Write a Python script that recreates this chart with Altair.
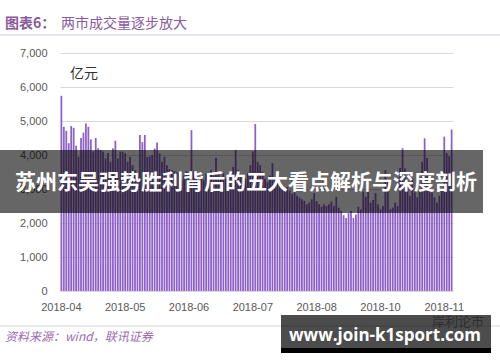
import altair as alt
import pandas as pd

# Daily turnover of the two markets (亿元), Apr 2018 - Nov 2018
VOLUME = [
    5740, 4830, 4710, 4350, 4850, 4800, 4270, 3950, 4500, 4660,
    4930, 4830, 4460, 4100, 4500, 4200, 4150, 4100, 3900, 4060,
    3800, 4200, 4420, 3900, 4100, 4100, 4050, 3800, 3950, 3700,
    3550, 3350, 4590, 4380, 4590, 3940, 3960, 4000, 4190, 4370,
    4050, 3800, 3950, 3700, 3590, 3560, 3530, 3490, 3460, 3260,
    3400, 3520, 3450, 4730, 3520, 3380, 3210, 3380, 3260, 3460,
    3210, 3560, 3400, 3920, 3460, 3300, 3460, 3300, 3260, 3520,
    3650, 4150, 3560, 3400, 3280, 3300, 3460, 3700, 4100, 4910,
    3800, 3700, 3500, 3300, 3200, 3400, 3760, 3300, 3180, 3150,
    3100, 2950, 3050, 2950, 2850, 2900, 2800, 2750, 2700, 2650,
    2550, 2600, 2700, 2880, 2650, 2550, 2480, 2550, 2500, 2550,
    2630, 2500, 2770, 2450, 2350, 2230, 2150, 2290, 2350, 2150,
    2250, 2480, 2400, 2920, 2770, 3070, 2600, 2680, 2880, 2550,
    2400, 2500, 3560, 3260, 2400, 2450, 2600, 2500, 3620, 4200,
    3600, 3200, 2800, 3320, 2900, 2750, 2950, 3800, 4490, 3910,
    3100, 2900, 2750, 2600, 2800, 3020, 4540, 4060, 3960, 4750,
]
TICK_POS = [0, 26, 52, 78, 104, 130, 156]
TICK_LABELS = ["2018-04", "2018-05", "2018-06", "2018-07", "2018-08", "2018-10", "2018-11"]
Y_TICKS = [0, 1000, 2000, 3000, 4000, 5000, 6000, 7000]

TITLE_A = "图表6："
TITLE_B = "两市成交量逐步放大"
UNIT = "亿元"
SOURCE = "资料来源：wind，联讯证券"
HEADLINE = "苏州东吴强势胜利背后的五大看点解析与深度剖析"
WATERMARK = "www.join-k1sport.com"
FAINT_MARK = "岸利论市"

df = pd.DataFrame({"idx": list(range(len(VOLUME))), "value": VOLUME})

label_expr = "{}[indexof({}, datum.value)]".format(
    "[" + ",".join("'%s'" % t for t in TICK_LABELS) + "]",
    "[" + ",".join(str(p) for p in TICK_POS) + "]",
)

W, H = 393, 238
L, T = 60, 53  # plot origin in page pixels

bars = alt.Chart(df).mark_bar(color="#8d5fcb").encode(
    x=alt.X(
        "idx:O",
        scale=alt.Scale(paddingInner=0.28, paddingOuter=0.2),
        axis=alt.Axis(
            values=TICK_POS, labelExpr=label_expr, labelAngle=0, ticks=False,
            domain=False, title=None, labelFontSize=11, labelColor="#595959",
            labelFont="Liberation Sans", labelPadding=10,
        ),
    ),
    y=alt.Y(
        "value:Q",
        scale=alt.Scale(domain=[0, 7000], nice=False),
        axis=alt.Axis(
            values=Y_TICKS, format=",.0f", grid=True, gridColor="#d9d9d9", ticks=False,
            domain=False, title=None, labelFontSize=11, labelColor="#595959",
            labelFont="Liberation Sans", labelPadding=13,
        ),
    ),
)

one = alt.Data(values=[{}])


def text(t, px, py, **kw):
    return alt.Chart(one).mark_text(text=t, **kw).encode(
        x=alt.value(px - L), y=alt.value(py - T)
    )


def rule(x1, x2, py, color):
    return alt.Chart(one).mark_rule(color=color, strokeWidth=1).encode(
        x=alt.value(x1 - L), x2=alt.value(x2 - L), y=alt.value(py - T)
    )


def rect(x1, x2, y1, y2, **kw):
    return alt.Chart(one).mark_rect(**kw).encode(
        x=alt.value(x1 - L), x2=alt.value(x2 - L), y=alt.value(y1 - T), y2=alt.value(y2 - T)
    )


cjk = "Noto Sans CJK SC"
layers = [
    bars,
    text(TITLE_A, 5, 24, font=cjk, fontSize=14, fontWeight="bold", color="#8a5a9e",
         align="left", baseline="middle"),
    text(TITLE_B, 61, 24, font=cjk, fontSize=14, color="#8a5a9e",
         align="left", baseline="middle"),
    rule(0, 500, 35, "#cfc6dc"),
    text(UNIT, 70, 74, font=cjk, fontSize=14, color="#333333", align="left", baseline="middle"),
    rule(0, 500, 326, "#d6d6d6"),
    text(SOURCE, 5, 337, font=cjk, fontSize=12, fontStyle="italic", color="#9a6ab0",
         align="left", baseline="middle"),
    text(FAINT_MARK, 484, 322, font=cjk, fontSize=13, color="#9a9a9a",
         align="right", baseline="middle"),
    rect(0, 483, 150, 213, color="#000000", opacity=0.6),
    text(HEADLINE, 246, 183, font=cjk, fontSize=21, fontWeight="bold", color="#ffffff",
         align="center", baseline="middle"),
    rect(281, 491, 315, 348, color="#000000", opacity=0.7),
    rect(281, 491, 348, 353, color="#000000", opacity=1),
    text(WATERMARK, 385, 336, font="Open Sans", fontSize=17, fontWeight="bold",
         color="#ffffff", align="center", baseline="middle"),
]

chart = alt.layer(*layers).properties(
    width=W, height=H,
    autosize=alt.AutoSizeParams(type="none"),
    padding={"left": L, "top": T, "right": 500 - L - W, "bottom": 362 - T - H},
    background="#ffffff",
).configure_view(stroke=None)

chart.save("out.html", embed_options={"renderer": "svg", "actions": False})
